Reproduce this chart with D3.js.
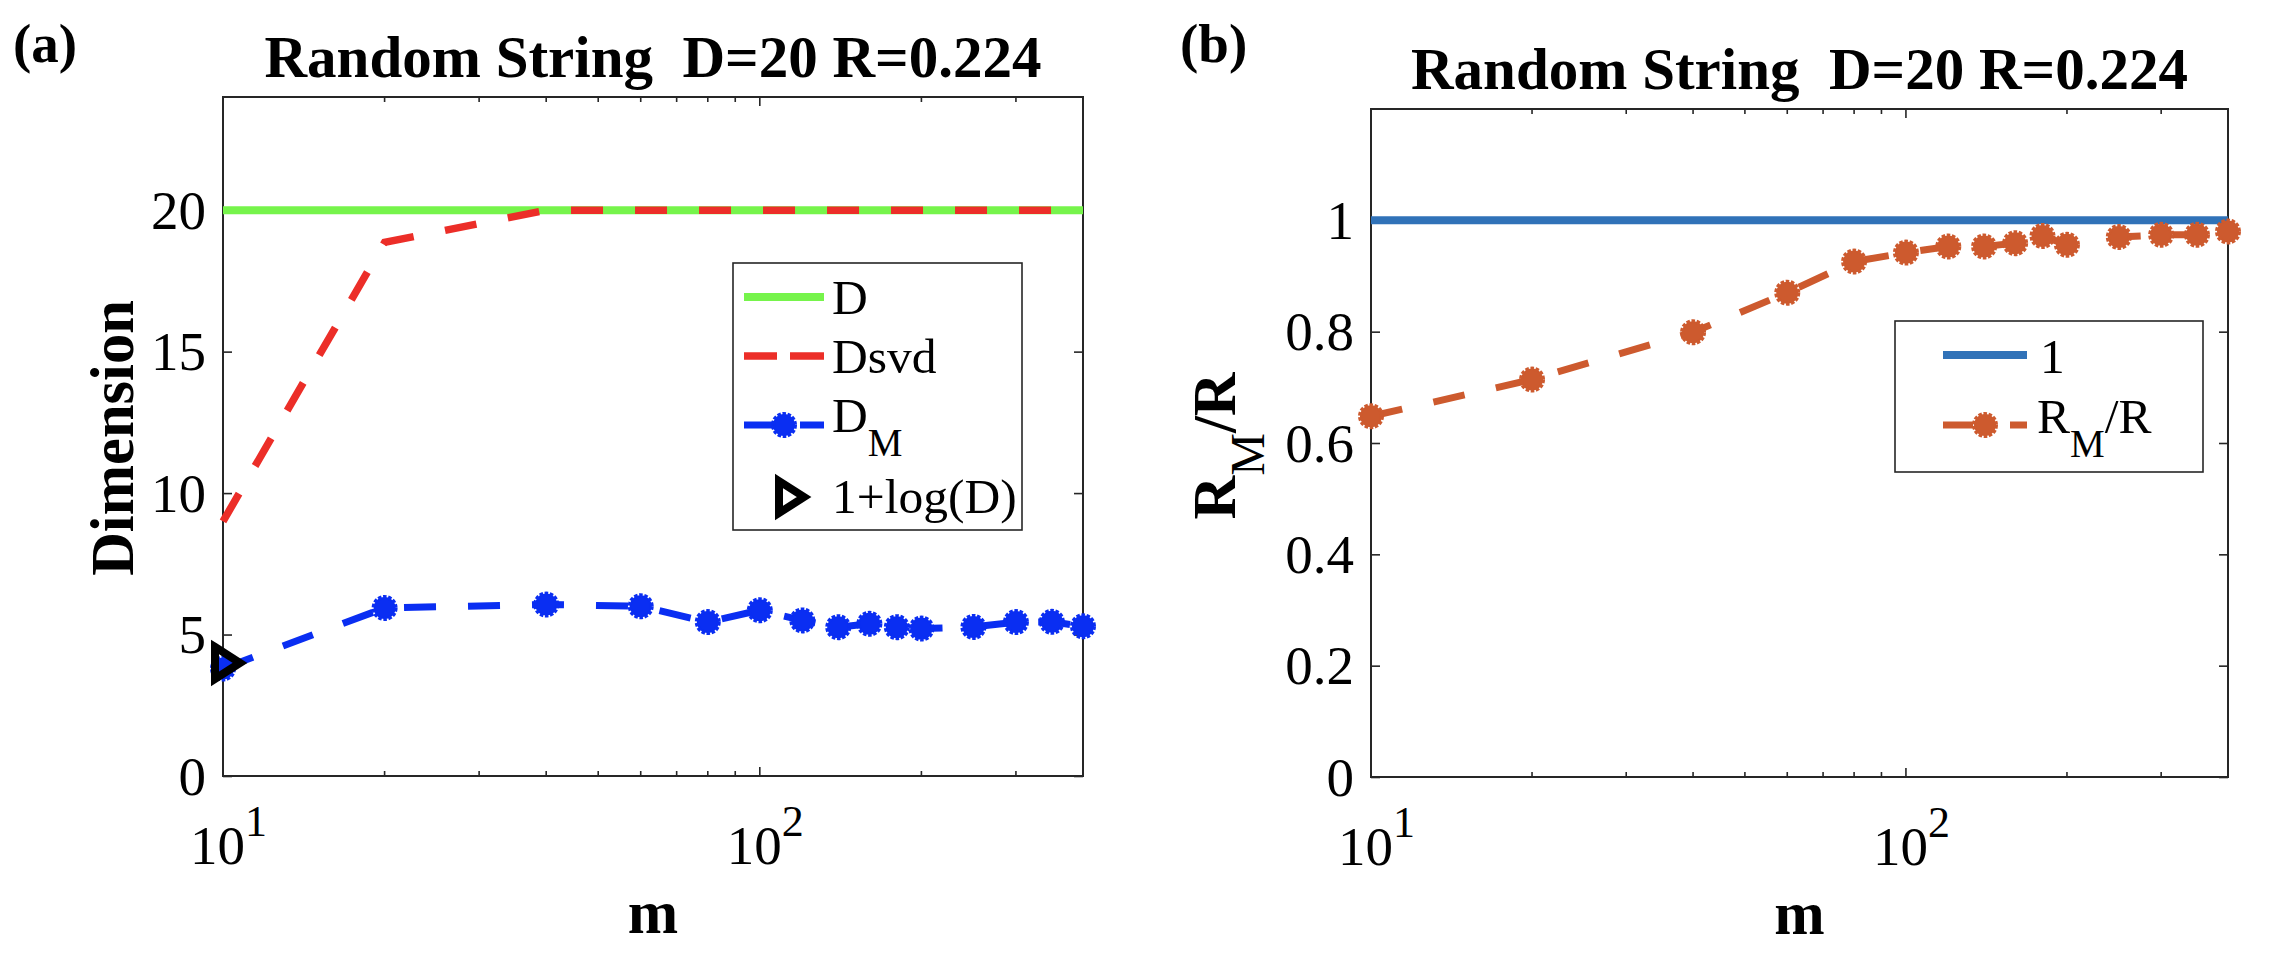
<!DOCTYPE html>
<html>
<head>
<meta charset="utf-8">
<script src="https://cdn.jsdelivr.net/npm/d3@7"></script>
<style>
  html, body { margin: 0; padding: 0; background: #ffffff; }
  svg { display: block; }
  text { font-family: "Liberation Serif", "Times New Roman", serif; fill: #000; }
</style>
</head>
<body>
<svg id="chart" width="2280" height="966"></svg>
<script>
// ---------------- data ----------------
const m      = [10, 20, 40, 60, 80, 100, 120, 140, 160, 180, 200, 250, 300, 350, 400];
const Dtrue  = [20, 20, 20, 20, 20, 20, 20, 20, 20, 20, 20, 20, 20, 20, 20];
const Dsvd   = [9.0, 18.86, 20, 20, 20, 20, 20, 20, 20, 20, 20, 20, 20, 20, 20];
const DM     = [3.8, 5.94, 6.06, 6.0, 5.44, 5.86, 5.5, 5.26, 5.38, 5.26, 5.21, 5.27, 5.44, 5.45, 5.29];
const logDm  = [10];
const logDv  = [3.996];
const one    = [1, 1, 1, 1, 1, 1, 1, 1, 1, 1, 1, 1, 1, 1, 1];
const RMR    = [0.648, 0.714, 0.799, 0.870, 0.926, 0.942, 0.953, 0.953, 0.959, 0.972, 0.956, 0.970, 0.974, 0.974, 0.980];

const xMajor = [10, 100];
const xMajorExp = ["1", "2"];
const xMinor = [20, 30, 40, 50, 60, 70, 80, 90, 200, 300];
const yTicksA = [0, 5, 10, 15, 20];
const yTicksB = [0, 0.2, 0.4, 0.6, 0.8, 1];

const titleText = "Random String  D=20 R=0.224";

// ---------------- style ----------------
const C = {
  axis: "#262626",
  green: "#76f44b",
  red: "#ec2e28",
  blue: "#0a2ef2",
  lblue: "#3072b8",
  orange: "#cd5a2e"
};
const tickFont = 55, titleFont = 59, labelFont = 60.5, legFont = 49.5;

const svg = d3.select("#chart");

function zip(xs, ys) { return xs.map((v, i) => ({ m: v, v: ys[i] })); }

function jagged(g, cx, cy, color) {
  g.append("circle").attr("cx", cx).attr("cy", cy).attr("r", 11)
    .attr("fill", color).attr("stroke", color).attr("stroke-width", 4)
    .attr("stroke-dasharray", "3.4,1.6");
}

function triangle(g, cx, cy) {
  g.append("path")
    .attr("d", `M${cx - 8},${cy - 16}L${cx + 17},${cy}L${cx - 8},${cy + 16}Z`)
    .attr("fill", "none").attr("stroke", "#000").attr("stroke-width", 8)
    .attr("stroke-linejoin", "miter").attr("stroke-miterlimit", 10);
}

function panel(opt) {
  const { L, R, T, B, yDomain, yTicks, yFmt } = opt;
  const x = d3.scaleLog().domain([10, 400]).range([L, R]);
  const y = d3.scaleLinear().domain(yDomain).range([B, T]);
  const g = svg.append("g");

  // y axis (left) with inner ticks
  const ya = g.append("g").attr("transform", `translate(${L},0)`)
    .call(d3.axisLeft(y).tickValues(yTicks).tickSize(-9).tickPadding(17).tickFormat(yFmt));
  ya.attr("font-family", null).attr("font-size", null);
  ya.select(".domain").remove();
  ya.selectAll("line").attr("stroke", C.axis).attr("stroke-width", 1.6);
  ya.selectAll("text").style("font-size", tickFont + "px").attr("fill", "#000").attr("dy", "0.33em");
  // y ticks on right side
  const yr = g.append("g").attr("transform", `translate(${R},0)`)
    .call(d3.axisRight(y).tickValues(yTicks).tickSize(-9).tickFormat(""));
  yr.select(".domain").remove();
  yr.selectAll("line").attr("stroke", C.axis).attr("stroke-width", 1.6);

  // x ticks (major / minor) bottom & top
  [[B, -1], [T, 1]].forEach(([yy, dir]) => {
    g.selectAll(null).data(xMajor).enter().append("line")
      .attr("x1", d => x(d)).attr("x2", d => x(d))
      .attr("y1", yy).attr("y2", yy + dir * 9)
      .attr("stroke", C.axis).attr("stroke-width", 1.6);
    g.selectAll(null).data(xMinor).enter().append("line")
      .attr("x1", d => x(d)).attr("x2", d => x(d))
      .attr("y1", yy).attr("y2", yy + dir * 5)
      .attr("stroke", C.axis).attr("stroke-width", 1.6);
  });

  // x tick labels 10^k
  xMajor.forEach((v, i) => {
    const t = g.append("text").attr("x", x(v) - 33).attr("y", B + 88)
      .style("font-size", tickFont + "px");
    t.append("tspan").text("10");
    t.append("tspan").attr("dy", -28).style("font-size", "44px").text(xMajorExp[i]);
  });

  // box
  g.append("rect").attr("x", L).attr("y", T).attr("width", R - L).attr("height", B - T)
    .attr("fill", "none").attr("stroke", C.axis).attr("stroke-width", 2);

  // title
  g.append("text").attr("x", (L + R) / 2).attr("y", T - 20)
    .attr("text-anchor", "middle").style("font-size", titleFont + "px")
    .style("font-weight", "bold").style("white-space", "pre").text(titleText);

  // x label
  g.append("text").attr("x", (L + R) / 2).attr("y", B + 157)
    .attr("text-anchor", "middle").style("font-size", labelFont + "px")
    .style("font-weight", "bold").text("m");

  // panel tag
  g.append("text").attr("x", opt.tagX).attr("y", 62)
    .style("font-size", "55px").style("font-weight", "bold").text(opt.tag);

  return { g, x, y };
}

// ================= panel (a) =================
const A = panel({ L: 223, R: 1083, T: 97, B: 776, yDomain: [0, 24], yTicks: yTicksA,
  yFmt: d3.format("d"), tag: "(a)", tagX: 13 });
{
  const { g, x, y } = A;
  const line = d3.line().x(d => x(d.m)).y(d => y(d.v));
  const pg = g.append("g");
  pg.append("path").datum(zip(m, Dtrue)).attr("d", line)
    .attr("fill", "none").attr("stroke", C.green).attr("stroke-width", 8);
  pg.append("path").datum(zip(m, Dsvd)).attr("d", line)
    .attr("fill", "none").attr("stroke", C.red).attr("stroke-width", 7.5)
    .attr("stroke-dasharray", "32,32");
  pg.append("path").datum(zip(m, DM)).attr("d", line)
    .attr("fill", "none").attr("stroke", C.blue).attr("stroke-width", 7)
    .attr("stroke-dasharray", "32,32");
  zip(m, DM).forEach(d => jagged(pg, x(d.m), y(d.v), C.blue));
  zip(logDm, logDv).forEach(d => triangle(pg, x(d.m), y(d.v)));

  // y label
  g.append("text").attr("transform", "translate(133,438) rotate(-90)")
    .attr("text-anchor", "middle").style("font-size", labelFont + "px")
    .style("font-weight", "bold").text("Dimension");

  // legend
  const lg = g.append("g");
  lg.append("rect").attr("x", 733).attr("y", 263).attr("width", 289).attr("height", 267)
    .attr("fill", "#fff").attr("stroke", C.axis).attr("stroke-width", 1.6);
  const lx1 = 744, lx2 = 824, tx = 832;
  lg.append("line").attr("x1", lx1).attr("x2", lx2).attr("y1", 297).attr("y2", 297)
    .attr("stroke", C.green).attr("stroke-width", 8);
  lg.append("text").attr("x", tx).attr("y", 314).style("font-size", legFont + "px").text("D");

  lg.append("line").attr("x1", lx1).attr("x2", lx2).attr("y1", 356).attr("y2", 356)
    .attr("stroke", C.red).attr("stroke-width", 7.5).attr("stroke-dasharray", "33,13,34");
  lg.append("text").attr("x", tx).attr("y", 373).style("font-size", legFont + "px").text("Dsvd");

  lg.append("line").attr("x1", lx1).attr("x2", lx2).attr("y1", 425).attr("y2", 425)
    .attr("stroke", C.blue).attr("stroke-width", 7).attr("stroke-dasharray", "31,25,24");
  jagged(lg, 784, 425, C.blue);
  const t3 = lg.append("text").attr("x", tx).attr("y", 432).style("font-size", legFont + "px");
  t3.append("tspan").text("D");
  t3.append("tspan").attr("dy", 24).style("font-size", "39px").text("M");

  triangle(lg, 787, 497);
  lg.append("text").attr("x", tx).attr("y", 513).style("font-size", legFont + "px").text("1+log(D)");
}

// ================= panel (b) =================
const Bp = panel({ L: 1371, R: 2228, T: 109, B: 777, yDomain: [0, 1.2], yTicks: yTicksB,
  yFmt: d => d === 0 ? "0" : d3.format("")(d), tag: "(b)", tagX: 1180 });
{
  const { g, x, y } = Bp;
  const line = d3.line().x(d => x(d.m)).y(d => y(d.v));
  g.append("path").datum(zip(m, one)).attr("d", line)
    .attr("fill", "none").attr("stroke", C.lblue).attr("stroke-width", 8);
  g.append("path").datum(zip(m, RMR)).attr("d", line)
    .attr("fill", "none").attr("stroke", C.orange).attr("stroke-width", 7)
    .attr("stroke-dasharray", "32,32");
  zip(m, RMR).forEach(d => jagged(g, x(d.m), y(d.v), C.orange));

  // y label R_M/R
  const yl = g.append("text").attr("transform", "translate(1235,446) rotate(-90)")
    .attr("text-anchor", "middle").style("font-size", labelFont + "px").style("font-weight", "bold");
  yl.append("tspan").text("R");
  yl.append("tspan").attr("dy", 29).style("font-size", "48px").style("font-weight", "normal").text("M");
  yl.append("tspan").attr("dy", -29).text("/R");

  // legend
  const lg = g.append("g");
  lg.append("rect").attr("x", 1895).attr("y", 321).attr("width", 308).attr("height", 151)
    .attr("fill", "#fff").attr("stroke", C.axis).attr("stroke-width", 1.6);
  const lx1 = 1943, lx2 = 2027, tx = 2040;
  lg.append("line").attr("x1", lx1).attr("x2", lx2).attr("y1", 355).attr("y2", 355)
    .attr("stroke", C.lblue).attr("stroke-width", 8);
  lg.append("text").attr("x", tx).attr("y", 373).style("font-size", legFont + "px").text("1");

  lg.append("line").attr("x1", lx1).attr("x2", lx2).attr("y1", 425).attr("y2", 425)
    .attr("stroke", C.orange).attr("stroke-width", 7).attr("stroke-dasharray", "30,37,17");
  jagged(lg, 1985, 425, C.orange);
  const t2 = lg.append("text").attr("x", tx - 3).attr("y", 433).style("font-size", legFont + "px");
  t2.append("tspan").text("R");
  t2.append("tspan").attr("dy", 24).style("font-size", "39px").text("M");
  t2.append("tspan").attr("dy", -24).text("/R");
}
</script>
</body>
</html>
